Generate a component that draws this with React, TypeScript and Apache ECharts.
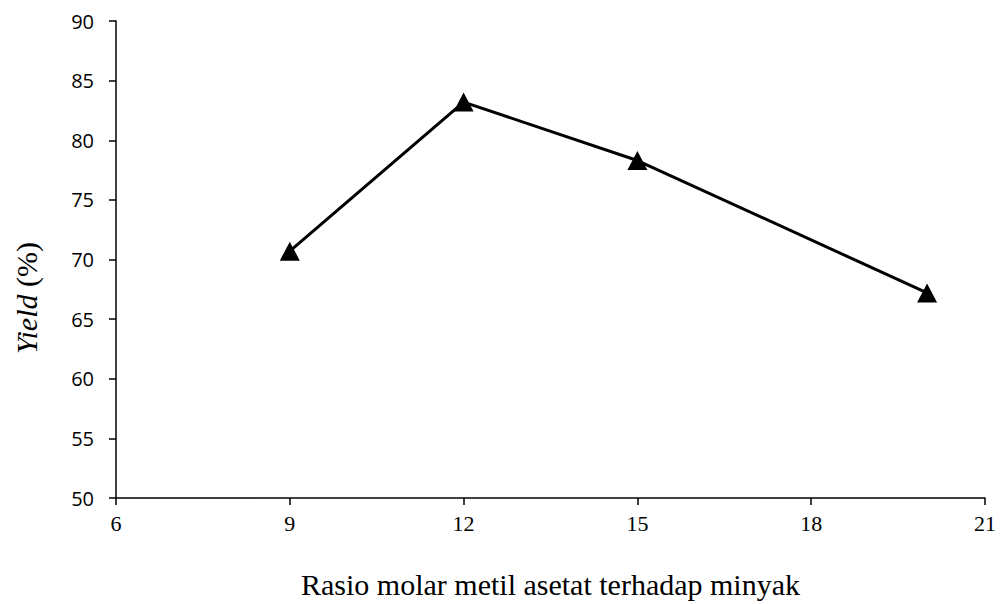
import React, { useEffect, useRef } from "react";
import * as echarts from "echarts";

// Molar ratio of methyl acetate to oil vs. yield (%)
const ratios = [9, 12, 15, 20];
const yieldValues = [70.7, 83.2, 78.3, 67.2];

const xTicks = { min: 6, max: 21, interval: 3 };
const yTicks = { min: 50, max: 90, interval: 5 };

const xTitle = "Rasio molar metil asetat terhadap minyak";

export default function App() {
  const ref = useRef<HTMLDivElement>(null);

  useEffect(() => {
    if (!ref.current) return;
    const chart = echarts.init(ref.current, undefined, { renderer: "svg" });
    const axisLine = { show: true, lineStyle: { color: "#000", width: 1.5 } };
    const axisTick = { show: true, length: 7, lineStyle: { color: "#000", width: 1.5 } };
    chart.setOption({
      animation: false,
      backgroundColor: "#fff",
      grid: { left: 116, right: 15, top: 21, bottom: 101, containLabel: false },
      xAxis: {
        type: "value",
        min: xTicks.min,
        max: xTicks.max,
        interval: xTicks.interval,
        axisLine,
        axisTick,
        splitLine: { show: false },
        axisLabel: {
          color: "#000",
          fontFamily: "Liberation Serif",
          fontSize: 22,
          margin: 14,
        },
        name: xTitle,
        nameLocation: "middle",
        nameGap: 71,
        nameTextStyle: { color: "#000", fontFamily: "Liberation Serif", fontSize: 30 },
      },
      yAxis: {
        type: "value",
        min: yTicks.min,
        max: yTicks.max,
        interval: yTicks.interval,
        axisLine,
        axisTick,
        splitLine: { show: false },
        axisLabel: {
          color: "#000",
          fontFamily: "Open Sans",
          fontSize: 20,
          margin: 22,
        },
      },
      graphic: [
        {
          type: "text",
          x: 26,
          y: 298,
          rotation: Math.PI / 2,
          style: {
            text: "{i|Yield} {n|(%)}",
            align: "center",
            verticalAlign: "middle",
            rich: {
              i: { fontFamily: "Liberation Serif", fontStyle: "italic", fontSize: 30, fill: "#000" },
              n: { fontFamily: "Liberation Serif", fontSize: 30, fill: "#000" },
            },
            fontFamily: "Liberation Serif",
            fontSize: 30,
            fill: "#000",
          },
        },
      ],
      series: [
        {
          type: "line",
          data: ratios.map((r, i) => [r, yieldValues[i]]),
          lineStyle: { color: "#000", width: 3 },
          itemStyle: { color: "#000" },
          symbol: "triangle",
          symbolSize: [20, 19],
        },
      ],
    });
    return () => chart.dispose();
  }, []);

  return (
    <div
      ref={ref}
      style={{ position: "fixed", left: 0, top: 0, width: 1000, height: 604 }}
    />
  );
}
